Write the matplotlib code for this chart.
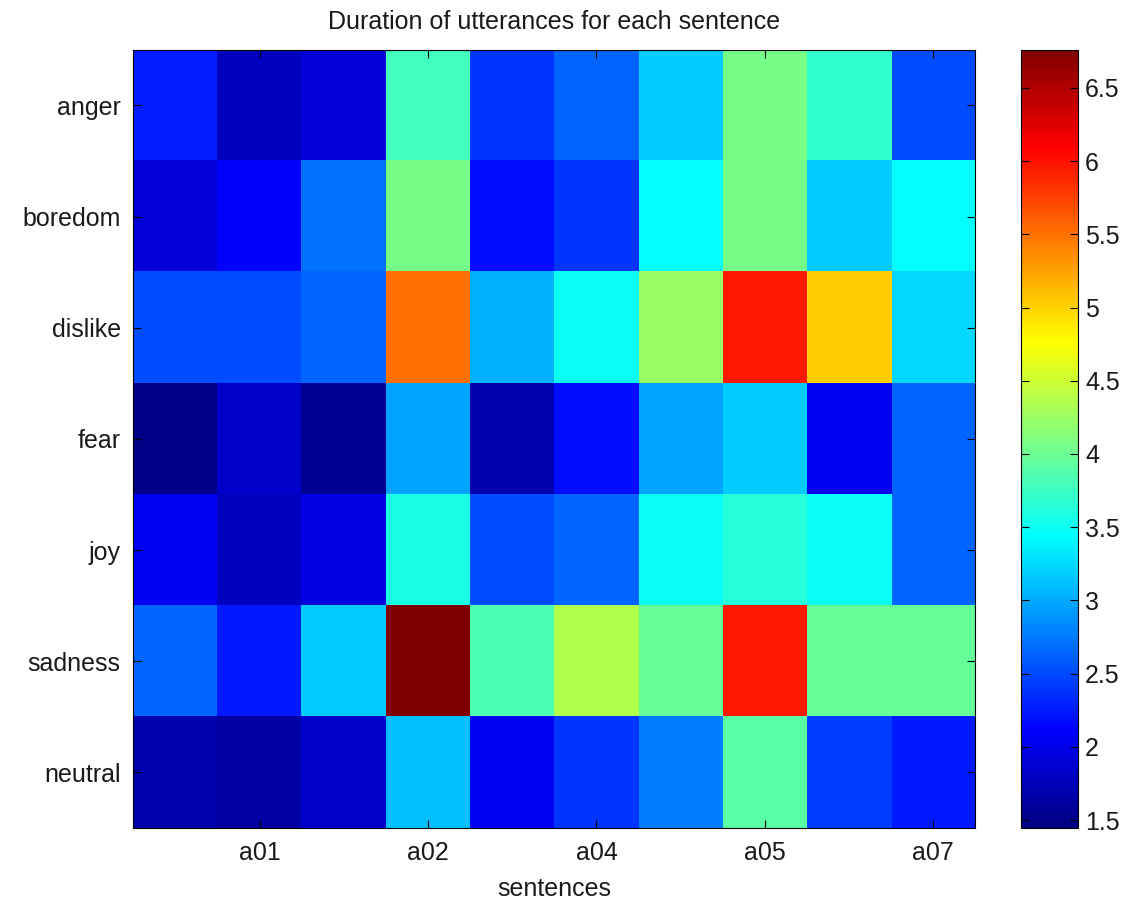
import matplotlib
matplotlib.use("Agg")
import matplotlib.pyplot as plt
import numpy as np
from matplotlib.colors import LinearSegmentedColormap

plt.rcParams["font.family"] = ["Liberation Sans", "DejaVu Sans"]

emotions = ["anger", "boredom", "dislike", "fear", "joy", "sadness", "neutral"]
tick_labels = ["a01", "a02", "a04", "a05", "a07"]

# mean utterance duration per sentence column (seconds)
anger = [2.27, 1.78, 1.92, 3.78, 2.38, 2.64, 3.17, 4.05, 3.70, 2.51]
boredom = [1.92, 2.11, 2.71, 4.05, 2.18, 2.38, 3.44, 4.05, 3.17, 3.44]
dislike = [2.51, 2.51, 2.64, 5.50, 3.04, 3.48, 4.24, 5.96, 5.03, 3.24]
fear = [1.50, 1.85, 1.55, 2.97, 1.71, 2.18, 2.97, 3.17, 2.05, 2.64]
joy = [2.05, 1.78, 1.98, 3.57, 2.51, 2.64, 3.50, 3.64, 3.50, 2.64]
sadness = [2.64, 2.24, 3.17, 6.76, 3.84, 4.37, 3.97, 5.96, 3.97, 3.97]
neutral = [1.71, 1.65, 1.85, 3.11, 2.05, 2.38, 2.77, 3.90, 2.44, 2.24]

data = np.array([anger, boredom, dislike, fear, joy, sadness, neutral])

# MATLAB-style jet (cyan at 3/8, yellow at 5/8)
matlab_jet = LinearSegmentedColormap.from_list("matlab_jet", [
    (0.0, (0.0, 0.0, 0.5)),
    (0.125, (0.0, 0.0, 1.0)),
    (0.375, (0.0, 1.0, 1.0)),
    (0.625, (1.0, 1.0, 0.0)),
    (0.875, (1.0, 0.0, 0.0)),
    (1.0, (0.5, 0.0, 0.0)),
], N=256)

fig = plt.figure(figsize=(11.29, 9.06), dpi=100)
ax = fig.add_axes([0.118, 0.086, 0.746, 0.859])
cax = fig.add_axes([0.904, 0.086, 0.051, 0.859])

im = ax.imshow(data, cmap=matlab_jet, aspect="auto",
               interpolation="nearest", vmin=1.445, vmax=6.76)

fs = 18
txt_color = "#1a1a1a"
ax.set_xticks([1, 3, 5, 7, 9])
ax.set_xticklabels(tick_labels)
ax.set_yticks(np.arange(len(emotions)))
ax.set_yticklabels(emotions)
ax.tick_params(direction="in", top=True, right=True, length=6,
               labelsize=fs, pad=9, labelcolor=txt_color)
ax.set_xlabel("sentences", fontsize=fs, labelpad=9, color=txt_color)
ax.set_title("Duration of utterances for each sentence", fontsize=fs, pad=15,
             color=txt_color)

cb = fig.colorbar(im, cax=cax)
cb.set_ticks(np.arange(1.5, 7.0, 0.5))
cb.set_ticklabels(["1.5", "2", "2.5", "3", "3.5", "4", "4.5", "5", "5.5", "6", "6.5"])
cax.tick_params(direction="in", left=True, right=True, length=6,
                labelsize=fs, pad=5, labelcolor=txt_color)
cb.outline.set_linewidth(0.8)

fig.savefig("out.png", dpi=100)
